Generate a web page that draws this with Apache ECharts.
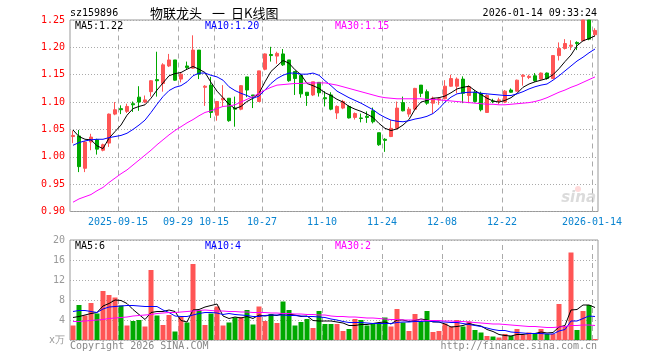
<!DOCTYPE html>
<html><head><meta charset="utf-8">
<script src="https://cdn.jsdelivr.net/npm/echarts@6/dist/echarts.min.js"></script>
<style>html,body{margin:0;padding:0;background:#fff}#c{width:660px;height:360px;background:#fff}</style>
</head><body><div id="c"></div>
<script>
const dates = ['2025-09-03','2025-09-04','2025-09-05','2025-09-08','2025-09-09','2025-09-10','2025-09-11','2025-09-12','2025-09-15','2025-09-16','2025-09-17','2025-09-18','2025-09-19','2025-09-22','2025-09-23','2025-09-24','2025-09-25','2025-09-26','2025-09-29','2025-09-30',
'2025-10-09','2025-10-10','2025-10-13','2025-10-14','2025-10-15','2025-10-16','2025-10-17','2025-10-20','2025-10-21','2025-10-22','2025-10-23','2025-10-24','2025-10-27','2025-10-28','2025-10-29','2025-10-30','2025-10-31',
'2025-11-03','2025-11-04','2025-11-05','2025-11-06','2025-11-07','2025-11-10','2025-11-11','2025-11-12','2025-11-13','2025-11-14','2025-11-17','2025-11-18','2025-11-19','2025-11-20','2025-11-21','2025-11-24','2025-11-25','2025-11-26','2025-11-27','2025-11-28',
'2025-12-01','2025-12-02','2025-12-03','2025-12-04','2025-12-05','2025-12-08','2025-12-09','2025-12-10','2025-12-11','2025-12-12','2025-12-15','2025-12-16','2025-12-17','2025-12-18','2025-12-19','2025-12-22','2025-12-23','2025-12-24','2025-12-25','2025-12-26','2025-12-29','2025-12-30','2025-12-31',
'2026-01-05','2026-01-06','2026-01-07','2026-01-08','2026-01-09','2026-01-12','2026-01-13','2026-01-14'];

const opens = [1.037,1.038,0.979,1.027,1.031,1.012,1.025,1.078,1.088,1.083, 1.097,1.109,1.100,1.119,1.141,1.134,1.166,1.177,1.142,1.166, 1.162,1.195,1.127,1.131,1.076,1.104,1.107,1.089,1.087,1.146, 1.113,1.101,1.160,1.187,1.184,1.188,1.177,1.156,1.149,1.118, 1.113,1.136,1.108,1.113,1.080,1.089,1.092,1.072,1.071,1.074, 1.084,1.044,1.032,1.037,1.052,1.099,1.078,1.087,1.131,1.119, 1.098,1.104,1.106,1.129,1.129,1.142,1.112,1.118,1.116,1.081, 1.102,1.102,1.100,1.122,1.120,1.147,1.145,1.148,1.142,1.153, 1.143,1.185,1.198,1.202,1.209,1.212,1.250,1.223];
const closes = [1.039,0.982,1.027,1.036,1.014,1.022,1.078,1.086,1.086,1.092, 1.095,1.100,1.104,1.139,1.139,1.168,1.177,1.140,1.151,1.163, 1.195,1.151,1.129,1.081,1.101,1.107,1.066,1.087,1.130,1.122, 1.111,1.157,1.188,1.185,1.189,1.168,1.139,1.143,1.115,1.112, 1.137,1.117,1.106,1.087,1.092,1.101,1.071,1.079,1.070,1.072, 1.064,1.022,1.030,1.052,1.089,1.084,1.087,1.125,1.116,1.098, 1.107,1.106,1.129,1.143,1.142,1.116,1.128,1.101,1.086,1.112, 1.101,1.104,1.120,1.118,1.140,1.149,1.147,1.139,1.153,1.143, 1.185,1.198,1.207,1.204,1.207,1.250,1.215,1.231];
const lows = [1.025,0.972,0.972,1.012,1.004,1.010,1.018,1.076,1.078,1.080, 1.082,1.084,1.098,1.110,1.110,1.119,1.164,1.139,1.136,1.159, 1.161,1.142,1.093,1.071,1.066,1.092,1.064,1.055,1.085,1.109, 1.089,1.101,1.158,1.174,1.170,1.166,1.137,1.113,1.108,1.093, 1.111,1.110,1.092,1.085,1.069,1.087,1.070,1.068,1.063,1.062, 1.061,1.020,1.009,1.036,1.050,1.083,1.073,1.087,1.109,1.095, 1.079,1.095,1.105,1.128,1.116,1.098,1.098,1.099,1.083,1.080, 1.098,1.096,1.098,1.117,1.119,1.130,1.142,1.137,1.141,1.141, 1.142,1.176,1.196,1.195,1.195,1.212,1.213,1.220];
const highs = [1.048,1.049,1.029,1.042,1.033,1.024,1.079,1.100,1.094,1.097, 1.101,1.129,1.112,1.140,1.192,1.171,1.188,1.177,1.155,1.174, 1.222,1.195,1.131,1.146,1.102,1.131,1.107,1.110,1.131,1.146, 1.113,1.157,1.189,1.201,1.192,1.197,1.177,1.156,1.149,1.118, 1.137,1.136,1.120,1.118,1.094,1.104,1.094,1.081,1.079,1.083, 1.090,1.044,1.034,1.067,1.101,1.110,1.091,1.126,1.131,1.123, 1.110,1.109,1.140,1.150,1.145,1.147,1.131,1.122,1.119,1.114, 1.106,1.108,1.122,1.125,1.141,1.151,1.150,1.153,1.154,1.154, 1.185,1.209,1.215,1.213,1.211,1.250,1.250,1.235];
const volumes = [2.9,7.0,4.9,7.4,5.3,9.8,9.0,8.5,6.9,2.9, 3.8,4.0,2.7,14.0,4.9,3.0,5.0,1.7,4.6,3.5, 15.2,6.0,3.0,5.3,6.7,2.9,3.5,4.5,4.6,6.0, 3.1,6.7,3.8,5.2,3.4,7.7,6.0,2.9,3.6,4.2, 2.4,5.8,3.2,3.2,3.2,1.8,2.2,4.2,4.0,2.9, 3.2,3.2,4.5,2.7,6.2,3.5,1.8,5.2,3.7,5.8, 1.6,1.8,3.3,2.7,4.0,2.7,3.7,2.0,1.5,0.8, 0.7,0.5,1.2,0.8,2.2,1.0,1.5,1.3,2.2,1.2, 1.2,7.2,2.8,17.5,2.0,5.8,7.0,0.2];

const ma5 = [1.049,1.037,1.032,1.031,1.020,1.015,1.034,1.046,1.058,1.076, 1.088,1.092,1.095,1.107,1.122,1.135,1.148,1.152,1.154,1.160, 1.165,1.160,1.154,1.136,1.120,1.108,1.096,1.088,1.092,1.101, 1.107,1.116,1.137,1.156,1.166,1.176,1.171,1.159,1.150,1.134, 1.130,1.125,1.117,1.112,1.105,1.100,1.092,1.087,1.083,1.078, 1.072,1.061,1.052,1.048,1.051,1.058,1.068,1.087,1.100,1.103, 1.107,1.108,1.111,1.117,1.124,1.127,1.129,1.121,1.114,1.107, 1.102,1.100,1.103,1.108,1.116,1.127,1.133,1.137,1.140,1.143, 1.150,1.161,1.174,1.186,1.203,1.212,1.216,1.221];
const ma10 = [1.021,1.026,1.029,1.031,1.032,1.032,1.035,1.037,1.039,1.043, 1.050,1.058,1.067,1.081,1.096,1.110,1.121,1.127,1.130,1.137, 1.148,1.153,1.153,1.149,1.146,1.140,1.128,1.121,1.116,1.112, 1.107,1.111,1.122,1.134,1.143,1.149,1.153,1.153,1.151,1.151, 1.153,1.149,1.139,1.130,1.120,1.114,1.108,1.103,1.098,1.092, 1.086,1.078,1.072,1.067,1.065,1.064,1.066,1.069,1.071,1.074, 1.079,1.088,1.100,1.109,1.115,1.117,1.118,1.118,1.116,1.115, 1.114,1.113,1.112,1.112,1.115,1.119,1.124,1.128,1.131,1.133, 1.140,1.148,1.157,1.166,1.175,1.182,1.190,1.197];
const ma30 = [0.917,0.923,0.927,0.931,0.938,0.944,0.953,0.961,0.969,0.976, 0.985,0.994,1.003,1.012,1.022,1.031,1.040,1.048,1.055,1.062, 1.068,1.075,1.081,1.084,1.088,1.092,1.093,1.095,1.100,1.105, 1.110,1.116,1.122,1.127,1.131,1.132,1.133,1.134,1.134,1.135, 1.135,1.135,1.135,1.133,1.131,1.128,1.125,1.122,1.119,1.116, 1.113,1.110,1.108,1.107,1.106,1.106,1.106,1.106,1.106,1.105, 1.105,1.104,1.103,1.102,1.101,1.100,1.099,1.098,1.097,1.096, 1.096,1.095,1.095,1.096,1.097,1.098,1.099,1.101,1.104,1.108, 1.113,1.118,1.122,1.127,1.131,1.136,1.141,1.146];

const vma5 = [4.5,4.7,5.0,5.3,5.5,6.8,7.3,8.0,7.9,7.3, 6.1,5.1,4.1,5.5,5.7,5.7,6.0,5.7,3.9,3.6, 6.0,6.1,6.6,6.9,7.2,4.8,4.3,4.6,4.4,4.7, 4.3,5.0,4.8,5.0,4.9,5.3,5.2,5.0,4.7,4.8, 3.9,3.8,3.8,3.8,3.6,3.4,2.9,2.9,3.1,3.1, 3.3,3.5,3.6,3.2,4.0,4.0,3.7,3.9,4.2,4.0, 3.6,3.6,3.2,2.6,2.7,2.9,3.3,3.0,2.8,2.1, 1.7,1.1,0.9,0.8,1.1,1.1,1.3,1.3,1.6,1.4, 1.5,2.6,2.9,6.0,6.1,7.0,7.0,6.5];
const vma10 = [5.7,5.9,5.9,5.7,5.5,6.2,6.6,6.7,6.8,6.9, 6.9,6.8,6.7,6.7,6.7,6.0,5.5,4.8,4.7,4.7, 5.0,5.3,5.5,5.5,5.4,5.1,5.3,5.1,5.0,4.9, 4.7,4.7,4.9,5.0,5.0,5.0,4.9,4.9,4.8,4.7, 4.7,4.6,4.5,4.2,4.0,3.7,3.5,3.5,3.5,3.4, 3.3,3.3,3.3,3.3,3.5,3.6,3.6,3.7,3.7,3.8, 3.7,3.6,3.6,3.5,3.5,3.3,3.1,2.9,2.7,2.4, 2.1,1.9,1.9,1.6,1.5,1.4,1.3,1.3,1.3,1.2, 1.2,1.8,2.1,3.8,3.8,4.3,4.8,4.7];
const vma30 = [3.7,3.7,3.8,3.9,4.0,4.1,4.3,4.4,4.5,4.6, 4.8,4.9,5.0,5.1,5.3,5.4,5.5,5.5,5.6,5.7, 5.8,5.9,6.0,5.9,5.8,5.8,5.7,5.7,5.6,5.6, 5.5,5.5,5.5,5.4,5.4,5.3,5.3,5.2,5.2,5.1, 5.1,5.0,5.0,4.8,4.7,4.7,4.6,4.6,4.5,4.4, 4.4,4.3,4.2,4.1,4.1,4.0,4.0,4.0,4.0,3.9, 3.9,3.9,3.8,3.8,3.7,3.7,3.6,3.5,3.4,3.3, 3.2,3.2,3.1,3.0,2.9,2.8,2.7,2.7,2.6,2.5, 2.5,2.6,2.7,2.9,2.9,3.0,3.0,2.9];

const tickIdx = [8,18,24,32,42,52,62,72,87];
const tickLabels = ['2025-09-15','09-29','10-15','10-27','11-10','11-24','12-08','12-22','2026-01-14'];
const priceMaText = ['MA5:1.22','MA10:1.20','MA30:1.15'];
const volMaText = ['MA5:6','MA10:4','MA30:2'];
const priceRange = [0.90, 1.25];
const volRange = [0, 20];

const MONO = '"DejaVu Sans Mono","Liberation Mono",monospace';
const CJK = '"Noto Sans CJK SC","Noto Sans CJK JP",sans-serif';
const UP = '#ff5555', DOWN = '#00a800';
const MA_COLORS = ['#000000','#0000ff','#ff00ff'];

const candles = dates.map((d,i)=>[opens[i], closes[i], lows[i], highs[i]]);
const volData = volumes.map((v,i)=>({value:v, itemStyle:{color: closes[i]>=opens[i]?UP:DOWN}}));

const hSplit = {show:true, lineStyle:{color:'#aaaaaa', type:[1,2], width:1}};

function line(name, data, color, xi, yi){
  return {name, type:'line', data, xAxisIndex:xi, yAxisIndex:yi, showSymbol:false, symbol:'none',
    lineStyle:{color, width:1}, itemStyle:{color}, z:5, silent:true};
}
// dashed vertical date lines: drawn on a hidden value x-axis spanning the same slots as the category axis,
// at the left edge of each labelled day's slot (index - 0.5), nudged half a pixel for a crisp 1px line
function dateLine(i, xi, yi, range){
  const x = i - 0.5 + 1/12;
  return {type:'line', xAxisIndex:xi, yAxisIndex:yi, data:[[x, range[0]],[x, range[1]]],
    showSymbol:false, symbol:'none', silent:true, z:1,
    lineStyle:{color:'#aaaaaa', width:1, type:[5,4]}};
}
function txt(x, y, text, fill, font, align){
  return {type:'text', x, y, z:100, style:{text, fill, font, align:align||'left', verticalAlign:'middle'}};
}
const hiddenX = (g)=>({type:'value', gridIndex:g, min:-0.5, max:dates.length-0.5, show:false,
  axisLine:{show:false}, axisTick:{show:false}, axisLabel:{show:false}, splitLine:{show:false}});

const series = [];
tickIdx.forEach(i=>{ series.push(dateLine(i, 2, 0, priceRange)); series.push(dateLine(i, 3, 1, volRange)); });
series.push(
  {type:'candlestick', name:'K', xAxisIndex:0, yAxisIndex:0, data:candles, barWidth:4, clip:true,
    itemStyle:{color:UP, color0:DOWN, borderColor:UP, borderColor0:DOWN, borderColorDoji:UP, borderWidth:1}, z:3},
  line('MA5', ma5, MA_COLORS[0], 0, 0),
  line('MA10', ma10, MA_COLORS[1], 0, 0),
  line('MA30', ma30, MA_COLORS[2], 0, 0),
  {type:'bar', name:'VOL', xAxisIndex:1, yAxisIndex:1, data:volData, barWidth:5, z:3},
  line('VMA5', vma5, MA_COLORS[0], 1, 1),
  line('VMA10', vma10, MA_COLORS[1], 1, 1),
  line('VMA30', vma30, MA_COLORS[2], 1, 1)
);

const chart = echarts.init(document.getElementById('c'), null, {renderer:'canvas'});
chart.setOption({
  animation:false,
  grid:[
    {left:70, top:20, width:528, height:191.5, show:true, borderColor:'#999999', borderWidth:1, backgroundColor:'rgba(0,0,0,0)'},
    {left:70, top:240, width:528, height:100, show:true, borderColor:'#999999', borderWidth:1, backgroundColor:'rgba(0,0,0,0)'}
  ],
  xAxis:[
    {type:'category', gridIndex:0, data:dates, boundaryGap:true,
      axisLine:{show:false}, axisTick:{show:false},
      axisLabel:{interval:(i)=>tickIdx.includes(i), formatter:(v,i)=>tickLabels[tickIdx.indexOf(i)],
        color:'#0a84d0', fontFamily:MONO, fontSize:10, margin:6, padding:[0,6,0,0]},
      splitLine:{show:false}},
    {type:'category', gridIndex:1, data:dates, boundaryGap:true,
      axisLine:{show:false}, axisTick:{show:false}, axisLabel:{show:false}, splitLine:{show:false}},
    hiddenX(0),
    hiddenX(1)
  ],
  yAxis:[
    {type:'value', gridIndex:0, min:priceRange[0], max:priceRange[1], interval:0.05,
      axisLine:{show:false}, axisTick:{show:false},
      axisLabel:{color:'#ff0000', fontFamily:MONO, fontSize:10, margin:5, formatter:(v)=>v.toFixed(2)},
      splitLine:hSplit},
    {type:'value', gridIndex:1, min:volRange[0], max:volRange[1], interval:4,
      axisLine:{show:false}, axisTick:{show:false},
      axisLabel:{color:'#999999', fontFamily:MONO, fontSize:10, margin:5,
        formatter:(v)=> v===0 ? 'x万' : String(v)},
      splitLine:hSplit}
  ],
  series,
  graphic:{elements:[
    txt(70, 13, 'sz159896', '#000', '10px '+MONO),
    txt(150, 13, '物联龙头', '#000', '13px '+CJK),
    txt(212, 13, '一', '#000', '13px '+CJK),
    txt(231, 13, '日K线图', '#000', '13px '+CJK),
    txt(597, 13, '2026-01-14 09:33:24', '#000', '10px '+MONO, 'right'),
    txt(75, 26, priceMaText[0], MA_COLORS[0], '10px '+MONO),
    txt(205, 26, priceMaText[1], MA_COLORS[1], '10px '+MONO),
    txt(335, 26, priceMaText[2], MA_COLORS[2], '10px '+MONO),
    txt(75, 246, volMaText[0], MA_COLORS[0], '10px '+MONO),
    txt(205, 246, volMaText[1], MA_COLORS[1], '10px '+MONO),
    txt(335, 246, volMaText[2], MA_COLORS[2], '10px '+MONO),
    txt(70, 346, 'Copyright 2026 SINA.COM', '#888888', '10px '+MONO),
    txt(597, 346, 'http://finance.sina.com.cn', '#888888', '10px '+MONO, 'right'),
    txt(596, 198, 'sina', 'rgba(190,190,190,0.55)', 'italic bold 15px "DejaVu Sans"', 'right'),
    {type:'circle', shape:{cx:578, cy:189, r:3}, z:99, style:{fill:'rgba(255,150,150,0.35)'}}
  ]}
});
</script></body></html>
